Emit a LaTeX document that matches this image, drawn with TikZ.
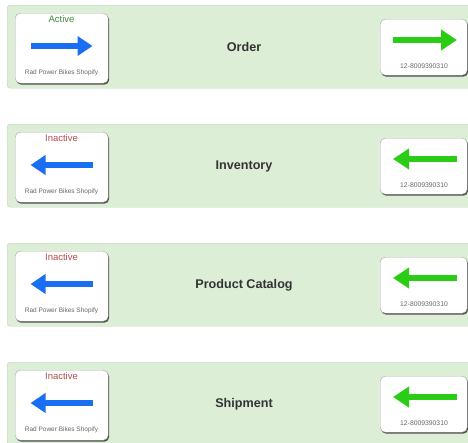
\documentclass[tikz,border=0pt]{standalone}
\usepackage{fontspec}
\setmainfont{Liberation Sans}
\usetikzlibrary{shadows,arrows.meta}
\definecolor{panelfill}{HTML}{DCEED5}
\definecolor{paneldraw}{HTML}{C2D2BC}
\definecolor{bluearrow}{HTML}{1A6EF2}
\definecolor{greenarrow}{HTML}{2BCC16}
\definecolor{activetext}{HTML}{3E8C3E}
\definecolor{inactivetext}{HTML}{B44C4C}
\begin{document}
\begin{tikzpicture}[x=1pt,y=-1pt,
    panel/.style={draw=paneldraw,fill=panelfill,rounded corners=3pt,
      anchor=north west,minimum width=470pt,minimum height=83pt,inner sep=0pt},
    card/.style={draw=black!35,fill=white,rounded corners=5pt,anchor=north west,
      inner sep=0pt,drop shadow={shadow xshift=1pt,shadow yshift=-1.5pt,fill=black!75,opacity=.9}},
    title/.style={font=\bfseries\fontsize{12.6}{14}\selectfont,text=black!80},
    state/.style={font=\fontsize{9.5}{11}\selectfont},
    small/.style={font=\fontsize{6.5}{8}\selectfont,text=black!60},
    fat/.style={line width=6.5pt}]
  \useasboundingbox (0,0) rectangle (468,442);
  \foreach \name/\state/\scol/\dir [count=\i from 0] in
      {Order/Active/activetext/1,Inventory/Inactive/inactivetext/-1,
       Product Catalog/Inactive/inactivetext/-1,Shipment/Inactive/inactivetext/-1} {
    \begin{scope}[shift={(0,\i*119)}]
      \node[panel] (panel\i) at (7,5) {};
      % source card
      \node[card,minimum width=93pt,minimum height=70pt] (src\i) at (15,13) {};
      \node[state,text=\scol] (state\i) at (61.5,19) {\state};
      \node[small] (shop\i) at (61.5,72.5) {Rad Power Bikes Shopify};
      \coordinate (sa\i) at (61.5-31*\dir,46);
      \coordinate (sb\i) at (61.5+31*\dir,46);
      \draw[fat,bluearrow,-{Triangle[length=15pt,width=19pt]}] (sa\i) -- (sb\i);
      % title
      \node[title] (name\i) at (244,47) {\name};
      % target card
      \node[card,minimum width=87pt,minimum height=56pt] (dst\i) at (380,19) {};
      \node[small,font=\fontsize{6.8}{8}\selectfont] (num\i) at (424,66) {12-8009390310};
      \coordinate (da\i) at (425-32*\dir,40);
      \coordinate (db\i) at (425+32*\dir,40);
      \draw[fat,greenarrow,-{Triangle[length=16pt,width=20pt]}] (da\i) -- (db\i);
    \end{scope}
  }
\end{tikzpicture}
\end{document}
